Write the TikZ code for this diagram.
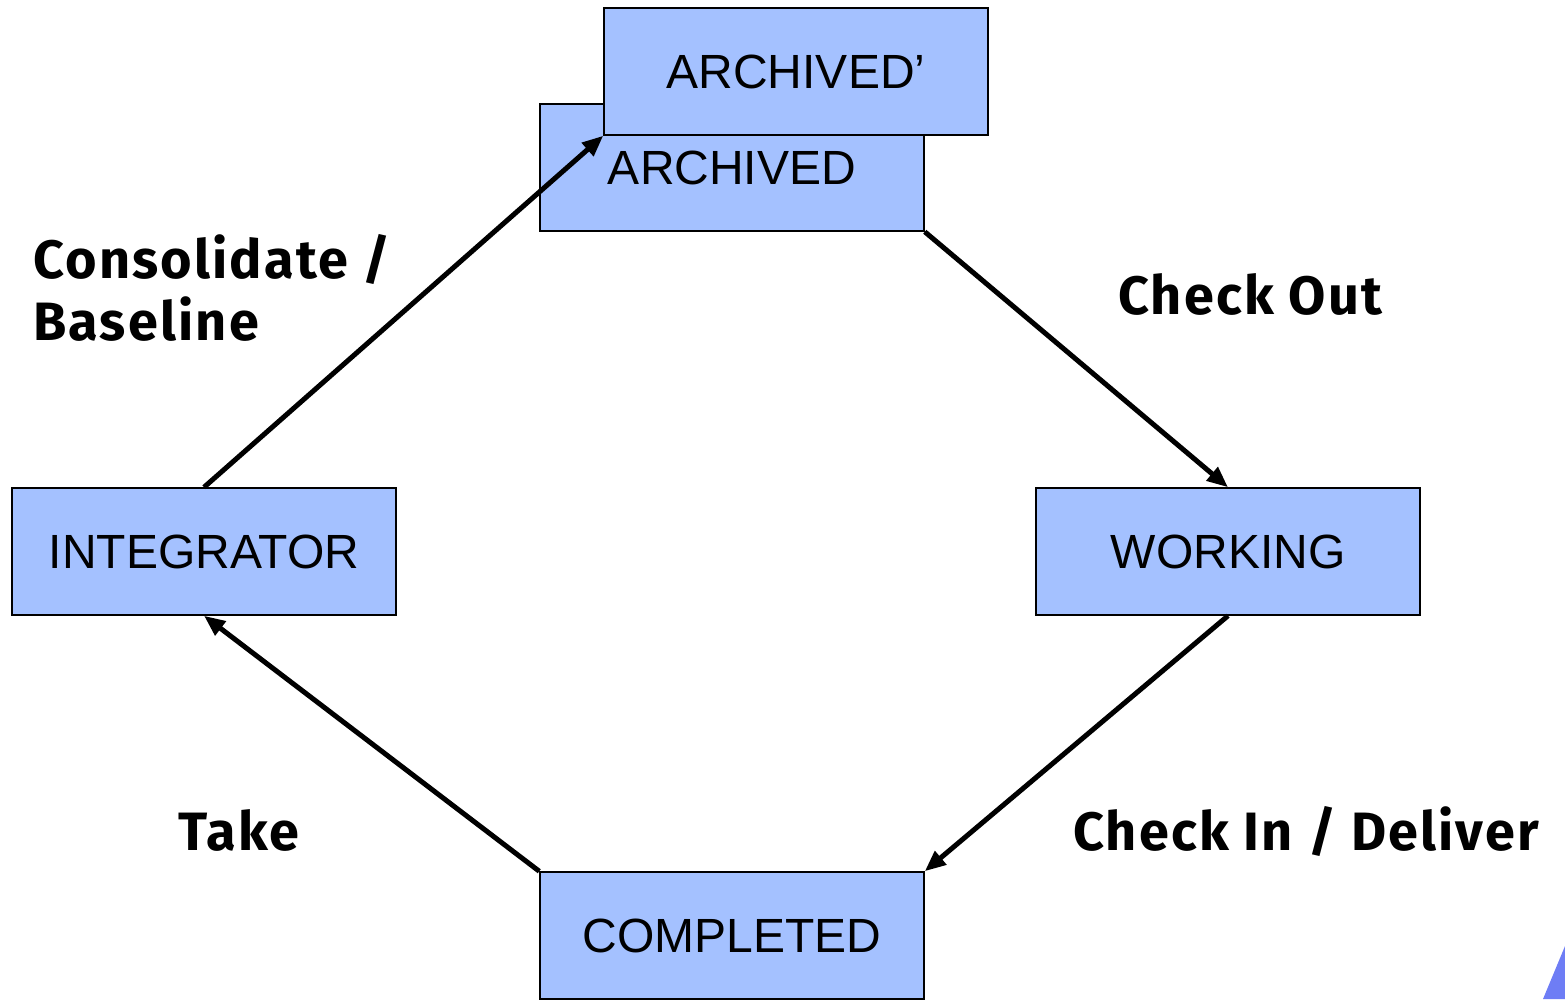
\documentclass[tikz,border=0pt]{standalone}
\usepackage{fontspec}
\setmainfont{Liberation Sans}
\newfontfamily\lblfont[LetterSpace=4]{Fira Sans}
\usetikzlibrary{arrows.meta}
\definecolor{boxblue}{RGB}{164,193,255}
\definecolor{cornerblue}{RGB}{110,125,245}
\begin{document}
\begin{tikzpicture}[x=1pt,y=-1pt,
  state/.style={draw=black,line width=1.5pt,fill=boxblue,minimum width=384pt,minimum height=127pt,inner sep=0pt,font=\fontsize{48}{52}\selectfont,text=black},
  flow/.style={line width=5pt,-{Triangle[length=21pt,width=17pt]}},
  lbl/.style={anchor=base west,inner sep=0pt,font=\lblfont\bfseries\fontsize{54}{62}\selectfont,align=left}]
\useasboundingbox (0,0) rectangle (1565,999);
\clip (0,0) rectangle (1565,999);
\node[state] (arch) at (732,167.5) {ARCHIVED};
\node[state] (archp) at (796,71.5) {ARCHIVED’};
\node[state] (integ) at (204,551.5) {INTEGRATOR};
\node[state] (work) at (1228,551.5) {WORKING};
\node[state] (comp) at (732,935.5) {COMPLETED};
\draw[flow] (integ.north) -- (archp.south west);
\draw[flow] (arch.south east) -- (work.north);
\draw[flow] (work.south) -- (comp.north east);
\draw[flow] (comp.north west) -- (integ.south);
\node[lbl] (l1) at (33,278) {Consolidate /};
\node[lbl] (l2) at (33,340) {Baseline};
\node[lbl] (l3) at (1118,314) {Check Out};
\node[lbl] (l4) at (178,850) {Take};
\node[lbl] (l5) at (1073,850) {Check In / Deliver};
\fill[cornerblue] (1543,999) -- (1565,946) -- (1565,999) -- cycle;
\end{tikzpicture}
\end{document}
